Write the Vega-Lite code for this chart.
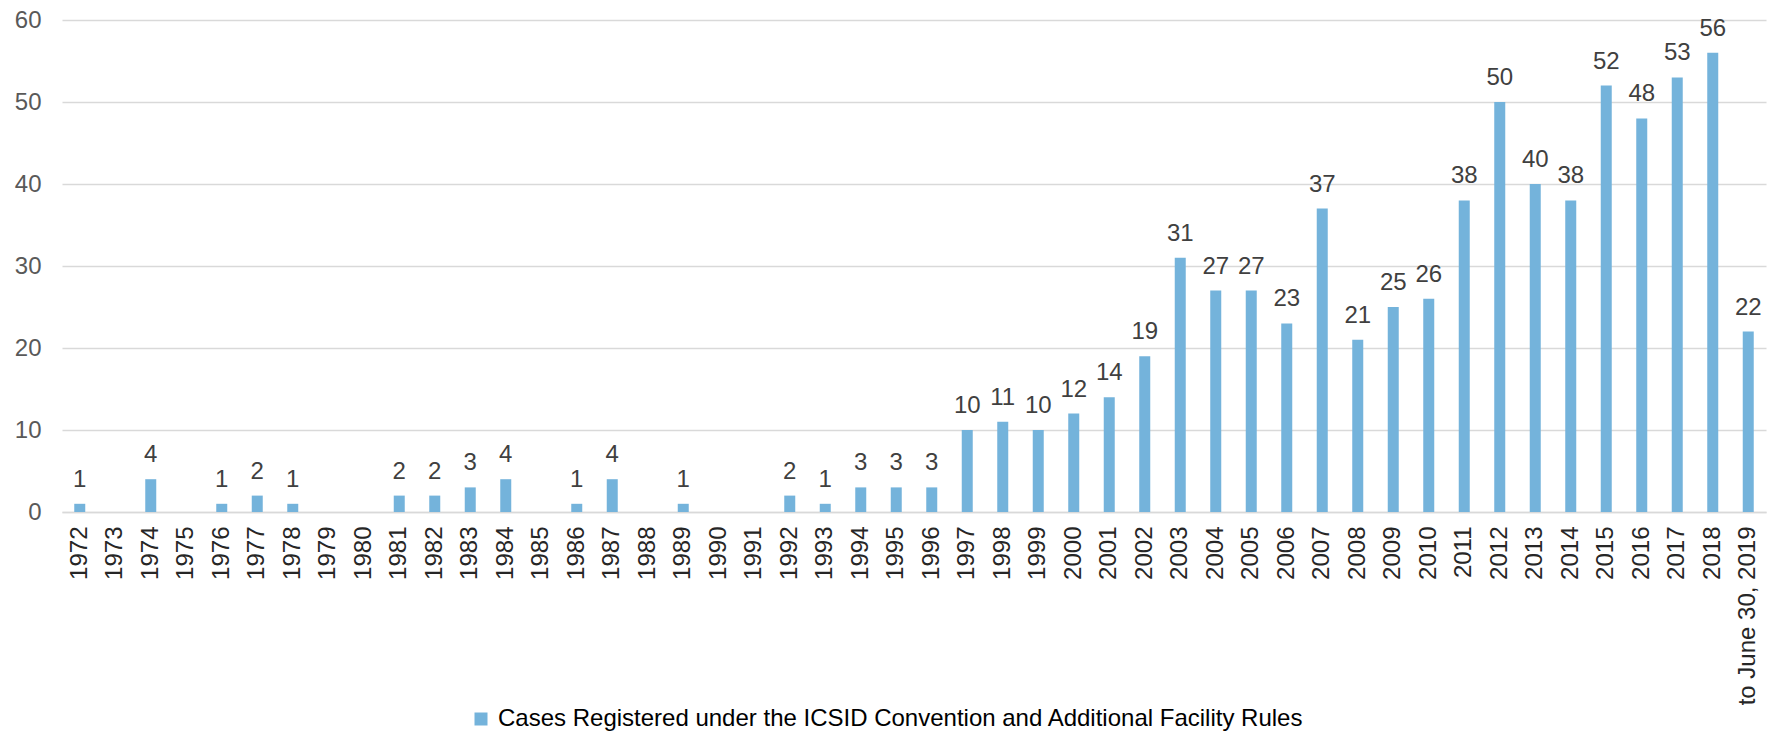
{
  "$schema": "https://vega.github.io/schema/vega-lite/v6.json",
  "autosize": {"type": "none"},
  "width": 1704,
  "height": 492,
  "padding": {"left": 62, "top": 20, "right": 4, "bottom": 220},
  "background": "white",
  "config": {
    "view": {"stroke": null},
    "font": "Liberation Sans"
  },
  "data": {
    "values": [
      {"year": "1972", "cases": 1, "series": "Cases Registered under the ICSID Convention and Additional Facility Rules"},
      {"year": "1973", "cases": 0, "series": "Cases Registered under the ICSID Convention and Additional Facility Rules"},
      {"year": "1974", "cases": 4, "series": "Cases Registered under the ICSID Convention and Additional Facility Rules"},
      {"year": "1975", "cases": 0, "series": "Cases Registered under the ICSID Convention and Additional Facility Rules"},
      {"year": "1976", "cases": 1, "series": "Cases Registered under the ICSID Convention and Additional Facility Rules"},
      {"year": "1977", "cases": 2, "series": "Cases Registered under the ICSID Convention and Additional Facility Rules"},
      {"year": "1978", "cases": 1, "series": "Cases Registered under the ICSID Convention and Additional Facility Rules"},
      {"year": "1979", "cases": 0, "series": "Cases Registered under the ICSID Convention and Additional Facility Rules"},
      {"year": "1980", "cases": 0, "series": "Cases Registered under the ICSID Convention and Additional Facility Rules"},
      {"year": "1981", "cases": 2, "series": "Cases Registered under the ICSID Convention and Additional Facility Rules"},
      {"year": "1982", "cases": 2, "series": "Cases Registered under the ICSID Convention and Additional Facility Rules"},
      {"year": "1983", "cases": 3, "series": "Cases Registered under the ICSID Convention and Additional Facility Rules"},
      {"year": "1984", "cases": 4, "series": "Cases Registered under the ICSID Convention and Additional Facility Rules"},
      {"year": "1985", "cases": 0, "series": "Cases Registered under the ICSID Convention and Additional Facility Rules"},
      {"year": "1986", "cases": 1, "series": "Cases Registered under the ICSID Convention and Additional Facility Rules"},
      {"year": "1987", "cases": 4, "series": "Cases Registered under the ICSID Convention and Additional Facility Rules"},
      {"year": "1988", "cases": 0, "series": "Cases Registered under the ICSID Convention and Additional Facility Rules"},
      {"year": "1989", "cases": 1, "series": "Cases Registered under the ICSID Convention and Additional Facility Rules"},
      {"year": "1990", "cases": 0, "series": "Cases Registered under the ICSID Convention and Additional Facility Rules"},
      {"year": "1991", "cases": 0, "series": "Cases Registered under the ICSID Convention and Additional Facility Rules"},
      {"year": "1992", "cases": 2, "series": "Cases Registered under the ICSID Convention and Additional Facility Rules"},
      {"year": "1993", "cases": 1, "series": "Cases Registered under the ICSID Convention and Additional Facility Rules"},
      {"year": "1994", "cases": 3, "series": "Cases Registered under the ICSID Convention and Additional Facility Rules"},
      {"year": "1995", "cases": 3, "series": "Cases Registered under the ICSID Convention and Additional Facility Rules"},
      {"year": "1996", "cases": 3, "series": "Cases Registered under the ICSID Convention and Additional Facility Rules"},
      {"year": "1997", "cases": 10, "series": "Cases Registered under the ICSID Convention and Additional Facility Rules"},
      {"year": "1998", "cases": 11, "series": "Cases Registered under the ICSID Convention and Additional Facility Rules"},
      {"year": "1999", "cases": 10, "series": "Cases Registered under the ICSID Convention and Additional Facility Rules"},
      {"year": "2000", "cases": 12, "series": "Cases Registered under the ICSID Convention and Additional Facility Rules"},
      {"year": "2001", "cases": 14, "series": "Cases Registered under the ICSID Convention and Additional Facility Rules"},
      {"year": "2002", "cases": 19, "series": "Cases Registered under the ICSID Convention and Additional Facility Rules"},
      {"year": "2003", "cases": 31, "series": "Cases Registered under the ICSID Convention and Additional Facility Rules"},
      {"year": "2004", "cases": 27, "series": "Cases Registered under the ICSID Convention and Additional Facility Rules"},
      {"year": "2005", "cases": 27, "series": "Cases Registered under the ICSID Convention and Additional Facility Rules"},
      {"year": "2006", "cases": 23, "series": "Cases Registered under the ICSID Convention and Additional Facility Rules"},
      {"year": "2007", "cases": 37, "series": "Cases Registered under the ICSID Convention and Additional Facility Rules"},
      {"year": "2008", "cases": 21, "series": "Cases Registered under the ICSID Convention and Additional Facility Rules"},
      {"year": "2009", "cases": 25, "series": "Cases Registered under the ICSID Convention and Additional Facility Rules"},
      {"year": "2010", "cases": 26, "series": "Cases Registered under the ICSID Convention and Additional Facility Rules"},
      {"year": "2011", "cases": 38, "series": "Cases Registered under the ICSID Convention and Additional Facility Rules"},
      {"year": "2012", "cases": 50, "series": "Cases Registered under the ICSID Convention and Additional Facility Rules"},
      {"year": "2013", "cases": 40, "series": "Cases Registered under the ICSID Convention and Additional Facility Rules"},
      {"year": "2014", "cases": 38, "series": "Cases Registered under the ICSID Convention and Additional Facility Rules"},
      {"year": "2015", "cases": 52, "series": "Cases Registered under the ICSID Convention and Additional Facility Rules"},
      {"year": "2016", "cases": 48, "series": "Cases Registered under the ICSID Convention and Additional Facility Rules"},
      {"year": "2017", "cases": 53, "series": "Cases Registered under the ICSID Convention and Additional Facility Rules"},
      {"year": "2018", "cases": 56, "series": "Cases Registered under the ICSID Convention and Additional Facility Rules"},
      {"year": "to June 30, 2019", "cases": 22, "series": "Cases Registered under the ICSID Convention and Additional Facility Rules"}
    ]
  },
  "encoding": {
    "x": {
      "field": "year",
      "type": "nominal",
      "sort": null,
      "scale": {"paddingInner": 0.69, "paddingOuter": 0.345},
      "axis": {
        "title": null,
        "labelAngle": 270,
        "labelFontSize": 24,
        "labelColor": "#262626",
        "labelPadding": 14,
        "labelLimit": 400,
        "ticks": false,
        "domainColor": "#d9d9d9",
        "domainWidth": 1.3
      }
    },
    "y": {
      "field": "cases",
      "type": "quantitative",
      "scale": {"domain": [0, 60], "nice": false},
      "axis": {
        "title": null,
        "values": [0, 10, 20, 30, 40, 50, 60],
        "labelFontSize": 24,
        "labelColor": "#595959",
        "labelPadding": 21,
        "ticks": false,
        "domain": false,
        "gridColor": "#d9d9d9",
        "gridWidth": 1.3
      }
    }
  },
  "layer": [
    {
      "mark": {"type": "bar"},
      "encoding": {
        "color": {
          "field": "series",
          "type": "nominal",
          "scale": {"range": ["#74b3db"]},
          "legend": {
            "title": null,
            "orient": "none",
            "legendX": 407,
            "legendY": 687,
            "symbolType": "square",
            "symbolSize": 169,
            "symbolStrokeWidth": 0,
            "symbolOpacity": 1,
            "labelFontSize": 24,
            "labelColor": "#000000",
            "labelOffset": 5,
            "labelLimit": 1000,
            "padding": 0
          }
        }
      }
    },
    {
      "transform": [{"filter": "datum.cases > 0"}],
      "mark": {"type": "text", "baseline": "alphabetic", "dy": -17, "fontSize": 24, "color": "#404040"},
      "encoding": {
        "text": {"field": "cases", "type": "quantitative"}
      }
    }
  ]
}
